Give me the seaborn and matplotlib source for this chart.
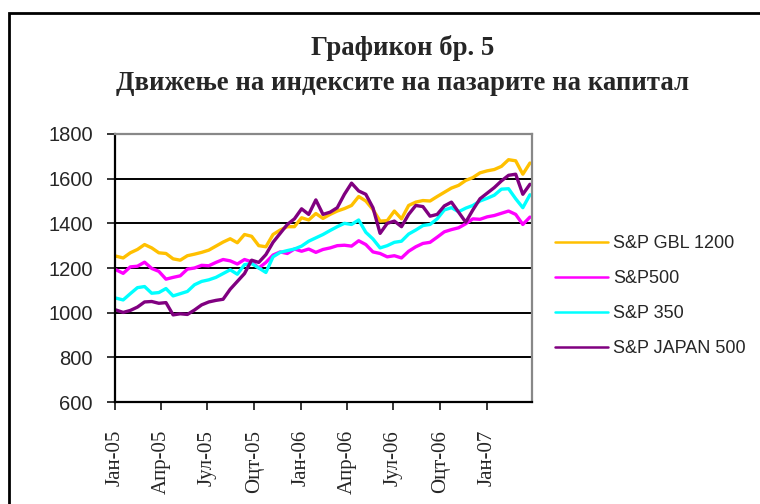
import numpy as np
import pandas as pd
import matplotlib
matplotlib.use("Agg")
import matplotlib.pyplot as plt
import matplotlib.dates as mdates
from matplotlib.patches import Rectangle
import seaborn as sns

#%% Podatoci (dvonedelni vrednosti, procenka od grafikonot)
dates = pd.date_range("2005-01-03", periods=59, freq="14D")
gbl1200 = [1253, 1245, 1268, 1283, 1305, 1290, 1268, 1265, 1241, 1235,
           1255, 1262, 1270, 1280, 1298, 1316, 1331, 1313, 1350, 1342,
           1300, 1295, 1350, 1370, 1385, 1385, 1425, 1415, 1444, 1422,
           1440, 1455, 1466, 1480, 1520, 1500, 1462, 1410, 1412, 1455,
           1420, 1480, 1495, 1502, 1500, 1520, 1539, 1558, 1570, 1592,
           1605, 1626, 1635, 1641, 1655, 1685, 1680, 1620, 1670]
sp500 = [1192, 1176, 1205, 1208, 1226, 1198, 1185, 1150, 1158, 1165,
         1195, 1200, 1212, 1210, 1225, 1238, 1232, 1218, 1238, 1228,
         1200, 1225, 1258, 1272, 1265, 1285, 1275, 1285, 1270, 1283,
         1290, 1300, 1302, 1298, 1322, 1305, 1272, 1265, 1250, 1255,
         1245, 1275, 1295, 1310, 1315, 1338, 1362, 1372, 1380, 1398,
         1420, 1418, 1429, 1435, 1445, 1455, 1440, 1395, 1428]
sp350 = [1065, 1057, 1085, 1112, 1117, 1087, 1090, 1108, 1075, 1085,
         1095, 1125, 1140, 1147, 1158, 1175, 1192, 1172, 1215, 1220,
         1200, 1180, 1250, 1270, 1278, 1285, 1298, 1320, 1335, 1350,
         1368, 1385, 1400, 1395, 1415, 1360, 1330, 1290, 1300, 1315,
         1320, 1352, 1370, 1390, 1395, 1420, 1460, 1470, 1452, 1468,
         1480, 1500, 1512, 1526, 1553, 1555, 1510, 1470, 1528]
japan500 = [1012, 1001, 1010, 1025, 1048, 1050, 1042, 1045, 990, 995,
            992, 1012, 1035, 1048, 1055, 1060, 1105, 1140, 1175, 1235,
            1225, 1260, 1315, 1355, 1395, 1420, 1465, 1440, 1505, 1440,
            1450, 1470, 1530, 1580, 1545, 1530, 1470, 1355, 1400, 1410,
            1385, 1440, 1480, 1475, 1432, 1440, 1478, 1495, 1450, 1405,
            1460, 1510, 1535, 1560, 1590, 1615, 1620, 1530, 1575]

series_names = ["S&P GBL 1200", "S&P500", "S&P 350", "S&P JAPAN 500"]
series_colors = ["#FFC000", "#FF00FF", "#00FFFF", "#800080"]
month_names = {1: "Јан", 4: "Апр", 7: "Јул", 10: "Оцт"}
y_ticks = [600, 800, 1000, 1200, 1400, 1600, 1800]

df = pd.DataFrame({
    "date": np.tile(dates, 4),
    "value": gbl1200 + sp500 + sp350 + japan500,
    "series": np.repeat(series_names, len(dates)),
})

#%% Grafikon
sns.set_style("white")
plt.rcParams["font.family"] = ["Liberation Sans", "DejaVu Sans"]

fig = plt.figure(figsize=(7.6, 5.04), dpi=100)
ax = fig.add_axes([115 / 760, 102 / 504, 417 / 760, 268 / 504])

sns.lineplot(data=df, x="date", y="value", hue="series", hue_order=series_names,
             palette=dict(zip(series_names, series_colors)), linewidth=2.4, ax=ax)

ax.set_xlim(pd.Timestamp("2005-01-01"), pd.Timestamp("2007-03-30"))
ax.set_ylim(600, 1800)
ax.set_yticks(y_ticks)
ax.yaxis.grid(True, color="black", linewidth=1.4)
ax.set_axisbelow(True)
ax.set_xlabel("")
ax.set_ylabel("")

ax.xaxis.set_major_locator(mdates.MonthLocator(bymonth=[1, 4, 7, 10]))
ax.xaxis.set_major_formatter(plt.FuncFormatter(
    lambda v, pos: "%s-%s" % (month_names[mdates.num2date(v).month],
                              mdates.num2date(v).strftime("%y"))))
for lbl in ax.get_xticklabels():
    lbl.set_rotation(90)
    lbl.set_fontfamily("Liberation Serif")
    lbl.set_fontsize(15)
ax.tick_params(axis="y", labelsize=14.5, length=6, width=1.3, direction="out", left=True, pad=10)
ax.tick_params(axis="x", length=6, width=1.3, direction="out", bottom=True, pad=14)

for side in ["left", "bottom"]:
    ax.spines[side].set_color("black")
    ax.spines[side].set_linewidth(1.6)
for side in ["top", "right"]:
    ax.spines[side].set_color("#888888")
    ax.spines[side].set_linewidth(1.6)

handles, labels = ax.get_legend_handles_labels()
leg = ax.legend(handles, labels, loc="upper left", bbox_to_anchor=(539 / 760, 1 - 219 / 504),
                bbox_transform=fig.transFigure, frameon=False, fontsize=13,
                handlelength=2.9, handletextpad=0.3, labelspacing=1.0)
for h in leg.get_lines():
    h.set_linewidth(1.8)

fig.text(403 / 760, 1 - 48 / 504, "Графикон бр. 5", ha="center", va="center",
         fontfamily="Liberation Serif", fontweight="bold", fontsize=19.3)
fig.text(403 / 760, 1 - 84 / 504, "Движење на индексите на пазарите на капитал",
         ha="center", va="center", fontfamily="Liberation Serif", fontweight="bold", fontsize=19.3)

fig.patches.append(Rectangle((9 / 760, -0.05), 1.0, 1 - 13 / 504 + 0.05, transform=fig.transFigure,
                             fill=False, edgecolor="black", linewidth=2, figure=fig))

fig.savefig("out.png", dpi=100)
